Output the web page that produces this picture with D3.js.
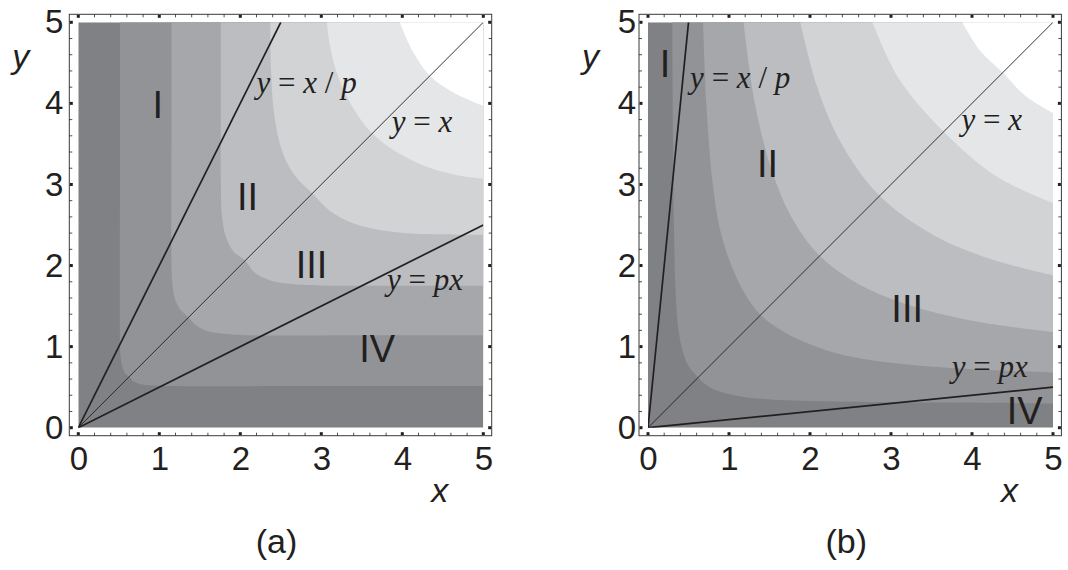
<!DOCTYPE html>
<html>
<head>
<meta charset="utf-8">
<script src="https://cdn.jsdelivr.net/npm/d3@7"></script>
<style>
  body { margin: 0; background: #fff; }
  svg { display: block; }
  .sans { font-family: "Liberation Sans", Arial, sans-serif; fill: #231f20; }
  .serif { font-family: "Liberation Serif", "Times New Roman", serif; fill: #231f20; white-space: pre; }
</style>
</head>
<body>
<svg id="chart" width="1068" height="570"></svg>
<script>
// values
const pValues = [0.5, 0.1]
const panelNames = ['(a)', '(b)']
const tickValues = [0, 1, 2, 3, 4, 5]
const shades = ['#808185', '#929397', '#a6a7aa', '#bcbdc0', '#d2d3d5', '#e5e6e8', '#ffffff']

// level curves, each from the top edge to the right edge, darkest boundary first
const contoursA = [
  [[0.514, 5], [0.514, 3], [0.514, 1.1], [0.52, 0.9], [0.54, 0.76], [0.58, 0.67], [0.63, 0.63], [0.67, 0.58], [0.76, 0.54], [0.9, 0.52], [1.1, 0.514], [3, 0.514], [5, 0.514]],
  [[1.15, 5], [1.15, 3.5], [1.15, 2.1], [1.16, 1.8], [1.19, 1.6], [1.25, 1.47], [1.36, 1.36], [1.47, 1.25], [1.6, 1.19], [1.8, 1.16], [2.1, 1.14], [3.5, 1.14], [5, 1.14]],
  [[1.76, 5], [1.76, 4], [1.76, 3.0], [1.775, 2.6], [1.82, 2.36], [1.91, 2.18], [2.06, 2.06], [2.18, 1.91], [2.36, 1.82], [2.6, 1.775], [3.0, 1.755], [4, 1.752], [5, 1.752]],
  [[2.37, 5], [2.38, 4.4], [2.42, 3.85], [2.52, 3.4], [2.68, 3.1], [2.88, 2.9], [3.1, 2.68], [3.4, 2.52], [3.85, 2.42], [4.4, 2.385], [5, 2.38]],
  [[3.07, 5], [3.1, 4.75], [3.19, 4.38], [3.36, 4.0], [3.63, 3.63], [4.0, 3.36], [4.38, 3.19], [4.75, 3.1], [5, 3.07]],
  [[3.97, 5], [4.03, 4.85], [4.14, 4.62], [4.34, 4.34], [4.62, 4.14], [4.85, 4.03], [5, 3.97]]
]
const contoursB = [
  [[0.30, 5], [0.31, 3.5], [0.32, 2.5], [0.34, 1.7], [0.37, 1.25], [0.42, 0.98], [0.50, 0.76], [0.62, 0.62], [0.76, 0.50], [0.98, 0.42], [1.25, 0.37], [1.7, 0.34], [2.5, 0.32], [3.5, 0.31], [5, 0.30]],
  [[0.68, 5], [0.72, 4], [0.8, 3], [0.9, 2.4], [1.03, 2.0], [1.18, 1.68], [1.39, 1.39], [1.68, 1.18], [2.0, 1.03], [2.4, 0.9], [3, 0.8], [4, 0.72], [5, 0.68]],
  [[1.18, 5], [1.32, 4], [1.52, 3.2], [1.77, 2.6], [2.12, 2.12], [2.6, 1.77], [3.2, 1.52], [4, 1.32], [5, 1.18]],
  [[1.88, 5], [2.09, 4.2], [2.39, 3.5], [2.86, 2.86], [3.5, 2.39], [4.2, 2.09], [5, 1.88]],
  [[2.77, 5], [3.1, 4.3], [3.65, 3.65], [4.3, 3.1], [5, 2.77]],
  [[3.88, 5], [4.1, 4.65], [4.38, 4.38], [4.65, 4.1], [5, 3.88]]
]

// region numerals: [text, x, y] in data units (centre, baseline)
const numeralsA = [['I', 0.98, 3.82], ['II', 2.09, 2.69], ['III', 2.88, 1.85], ['IV', 3.69, 0.81]]
const numeralsB = [['I', 0.21, 4.33], ['II', 1.475, 3.09], ['III', 3.20, 1.30], ['IV', 4.65, 0.05]]

// line labels: [text, x, y] in data units (start, baseline)
const lineLabelsA = [['y = x / p', 2.20, 4.13], ['y = x', 3.87, 3.65], ['y = px', 3.81, 1.70]]
const lineLabelsB = [['y = x / p', 0.52, 4.185], ['y = x', 3.87, 3.67], ['y = px', 3.75, 0.63]]

const svg = d3.select('#chart')

const panels = [
  { left: 78.3, contours: contoursA, numerals: numeralsA, lineLabels: lineLabelsA, labelPad: 6 },
  { left: 648, contours: contoursB, numerals: numeralsB, lineLabels: lineLabelsB, labelPad: 3 }
]

panels.forEach((panel, i) => {
  const p = pValues[i]
  const x = d3.scaleLinear().domain([0, 5]).range([panel.left, panel.left + 405])
  const y = d3.scaleLinear().domain([0, 5]).range([427.7, 22.3])
  const g = svg.append('g')

  const frame = { l: x(0) - 9, r: x(5) + 8.4, t: y(5) - 8, b: y(0) + 8 }

  const clipId = 'clip' + i
  svg.append('clipPath').attr('id', clipId)
    .append('rect')
    .attr('x', x(0)).attr('y', y(5))
    .attr('width', x(5) - x(0)).attr('height', y(0) - y(5))

  const plot = g.append('g').attr('clip-path', `url(#${clipId})`)

  plot.append('rect')
    .attr('x', x(0)).attr('y', y(5))
    .attr('width', x(5) - x(0)).attr('height', y(0) - y(5))
    .attr('fill', shades[0])

  const curve = d3.line()
    .x(d => x(d[0]))
    .y(d => y(d[1]))
    .curve(d3.curveCatmullRom.alpha(0.5))

  plot.selectAll('path.band')
    .data(panel.contours)
    .join('path')
    .attr('class', 'band')
    .attr('d', d => curve(d) + `L${x(5)},${y(5)}Z`)
    .attr('fill', (d, k) => shades[k + 1])

  // rays through the origin
  const rays = [
    { end: [5 * p, 5], w: 1.7 },
    { end: [5, 5], w: 0.9 },
    { end: [5, 5 * p], w: 1.7 }
  ]
  plot.selectAll('line.ray')
    .data(rays)
    .join('line')
    .attr('class', 'ray')
    .attr('x1', x(0)).attr('y1', y(0))
    .attr('x2', d => x(d.end[0])).attr('y2', d => y(d.end[1]))
    .attr('stroke', '#231f20')
    .attr('stroke-width', d => d.w)

  // frame
  g.append('rect')
    .attr('x', frame.l).attr('y', frame.t)
    .attr('width', frame.r - frame.l).attr('height', frame.b - frame.t)
    .attr('fill', 'none')
    .attr('stroke', '#3a3a3a')
    .attr('stroke-width', 1)

  // frame ticks, inward on all four sides
  const minor = d3.range(0, 26).map(k => k / 5)
  const ticks = g.append('g').attr('fill', '#231f20').attr('stroke', '#231f20')
  minor.forEach(t => {
    const major = Math.abs(t - Math.round(t)) < 1e-6
    const px = x(t)
    const py = y(t)
    if (major) {
      ticks.append('rect').attr('x', px - 1.5).attr('y', frame.b - 3.5).attr('width', 3).attr('height', 3).attr('stroke', 'none')
      ticks.append('rect').attr('x', px - 1.5).attr('y', frame.t + 0.5).attr('width', 3).attr('height', 3).attr('stroke', 'none')
      ticks.append('rect').attr('x', frame.l + 0.5).attr('y', py - 1.5).attr('width', 3).attr('height', 3).attr('stroke', 'none')
      ticks.append('rect').attr('x', frame.r - 3.5).attr('y', py - 1.5).attr('width', 3).attr('height', 3).attr('stroke', 'none')
    } else {
      ticks.append('line').attr('x1', px).attr('x2', px).attr('y1', frame.b).attr('y2', frame.b - 3).attr('stroke-width', 0.8)
      ticks.append('line').attr('x1', px).attr('x2', px).attr('y1', frame.t).attr('y2', frame.t + 3).attr('stroke-width', 0.8)
      ticks.append('line').attr('y1', py).attr('y2', py).attr('x1', frame.l).attr('x2', frame.l + 3).attr('stroke-width', 0.8)
      ticks.append('line').attr('y1', py).attr('y2', py).attr('x1', frame.r).attr('x2', frame.r - 3).attr('stroke-width', 0.8)
    }
  })

  // tick labels
  const xAxis = g.append('g')
    .attr('transform', `translate(0,${frame.b})`)
    .call(d3.axisBottom(x).tickValues(tickValues).tickSize(0).tickPadding(11).tickFormat(d3.format('d')))
  const yAxis = g.append('g')
    .attr('transform', `translate(${frame.l},0)`)
    .call(d3.axisLeft(y).tickValues(tickValues).tickSize(0).tickPadding(panel.labelPad).tickFormat(d3.format('d')))
  ;[xAxis, yAxis].forEach(ax => {
    ax.select('.domain').remove()
    ax.selectAll('text')
      .attr('class', 'sans')
      .attr('font-size', 33)
      .attr('fill', '#231f20')
    ax.attr('font-family', null).attr('font-size', null)
  })

  // axis names
  g.append('text').attr('class', 'sans')
    .attr('x', frame.l - 57).attr('y', 68)
    .attr('font-size', 34).attr('font-style', 'italic')
    .text('y')
  g.append('text').attr('class', 'sans')
    .attr('x', x(4.5) - 3).attr('y', 502)
    .attr('text-anchor', 'middle')
    .attr('font-size', 34).attr('font-style', 'italic')
    .text('x')

  // panel caption
  g.append('text').attr('class', 'sans')
    .attr('x', (frame.l + frame.r) / 2 - 4).attr('y', 553)
    .attr('text-anchor', 'middle')
    .attr('font-size', 34)
    .text(panelNames[i])

  // region numerals
  g.selectAll('text.numeral')
    .data(panel.numerals)
    .join('text')
    .attr('class', 'numeral sans')
    .attr('x', d => x(d[1])).attr('y', d => y(d[2]))
    .attr('text-anchor', 'middle')
    .attr('font-size', 38)
    .text(d => d[0])

  // line labels, letters in italic
  panel.lineLabels.forEach(lab => {
    const t = g.append('text').attr('class', 'serif')
      .attr('x', x(lab[1])).attr('y', y(lab[2]))
      .attr('font-size', 31)
    lab[0].split('').forEach(ch => {
      t.append('tspan')
        .attr('font-style', /[a-z]/.test(ch) ? 'italic' : 'normal')
        .text(ch)
    })
  })
})
</script>
</body>
</html>
